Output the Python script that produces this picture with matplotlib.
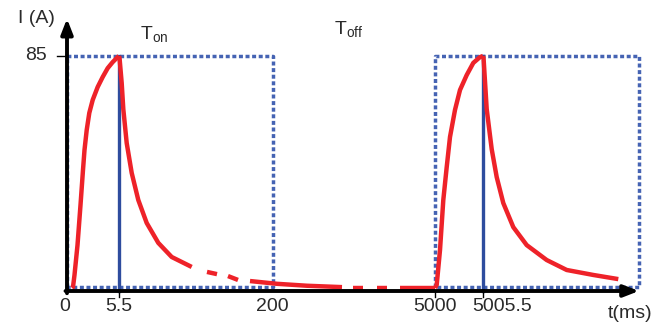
import numpy as np
import matplotlib.pyplot as plt

plt.rcParams['font.family'] = ['Liberation Sans', 'DejaVu Sans']

# schematic time axis (x = drawing units, not to scale), current in A
tick_pos = [0, 52, 206, 368, 416]
tick_labels = ['0', '5.5', '200', '5000', '5005.5']
label_pos = [-2, 52, 205, 368, 435]
i_peak = 85

# first pulse: rise and decay
rise1_x = [5, 6, 7.5, 10.5, 13.5, 16, 17.5, 19.7, 22.3, 25.7, 30.7, 35.7, 40.7, 45.7, 50.7, 52]
rise1_y = [1.1, 1.45, 5.8, 16.6, 31.1, 43.8, 51.0, 58.2, 64.4, 69.1, 73.8, 77.4, 80.6, 82.8, 84.6, 85]
dec1_x = [52, 52.6, 54.7, 56.3, 59.7, 64.7, 71.3, 79.7, 91.3, 104.7, 124.7]
dec1_y = [85, 84, 75.2, 65.8, 53.5, 42.7, 32.9, 24.6, 17.4, 12.3, 8.7]
# tail pieces (dashed look)
tail_x = [[140, 150], [161, 171], [183, 210, 240, 275], [286, 296], [310, 320], [333, 368]]
tail_y = [[6.9, 6.1], [5.4, 4.0], [3.6, 2.6, 1.9, 1.4], [1.1, 1.1], [1.1, 1.1], [1.1, 1.1]]

# second pulse
rise2_x = [368, 369.7, 373, 376.3, 379.7, 383, 388, 393, 399.7, 406.3, 413, 416]
rise2_y = [1.1, 2.2, 14.8, 32.9, 44.8, 55.7, 65.5, 72.7, 78.1, 82.5, 84.6, 85]
dec2_x = [416, 416.6, 419.7, 424.7, 429.7, 436.3, 446.3, 459.7, 479.7, 499.7, 526.3, 551.3]
dec2_y = [85, 84, 65.8, 51.3, 41.2, 31.8, 23.1, 16.6, 11.2, 7.6, 5.8, 4.3]

box1 = [0, 206]
box2 = [368, 572]
box_low = 1.45

fig = plt.figure(figsize=(6.54, 3.26), dpi=100)
ax = fig.add_axes([0, 0, 1, 1])
ax.set_xlim(-67, 587)
ax.set_ylim(-12.66, 105.25)
ax.axis('off')

blue = '#4563B3'
dark_blue = '#2E4C9E'
red = '#EE2229'
txt = '#2a2a2a'

# dotted boxes
for b0, b1 in (box1, box2):
    ax.plot([b0, b0, b1, b1, b0], [box_low, i_peak, i_peak, box_low, box_low],
            color=blue, lw=2.5, ls=(0, (1.15, 0.75)), solid_capstyle='butt', zorder=2)

# solid verticals at T_on end
for xv in (tick_pos[1], tick_pos[4]):
    ax.plot([xv, xv], [0, i_peak], color=dark_blue, lw=2.4, zorder=3)

# red current curve
kw = dict(color=red, lw=3.2, solid_capstyle='butt', solid_joinstyle='round', zorder=4)
ax.plot(rise1_x, rise1_y, **kw)
ax.plot(dec1_x, dec1_y, **kw)
for tx, ty in zip(tail_x, tail_y):
    ax.plot(tx, ty, **kw)
ax.plot(rise2_x, rise2_y, **kw)
ax.plot(dec2_x, dec2_y, **kw)

# axes with arrows
ax.annotate('', xy=(0, 98.5), xytext=(0, -0.8),
            arrowprops=dict(arrowstyle='-|>,head_length=0.9,head_width=0.35',
                            color='black', lw=2.8, shrinkA=0, shrinkB=0), zorder=5)
ax.annotate('', xy=(572, 0), xytext=(-1.5, 0),
            arrowprops=dict(arrowstyle='-|>,head_length=0.9,head_width=0.35',
                            color='black', lw=2.8, shrinkA=0, shrinkB=0), zorder=5)

# ticks
for xt in (tick_pos[1], tick_pos[3], tick_pos[4]):
    ax.plot([xt, xt], [0, -2.2], color='black', lw=1.0, zorder=5)
ax.plot([-10, 0], [i_peak, i_peak], color='black', lw=1.0, zorder=5)

for xl, lab in zip(label_pos, tick_labels):
    ax.text(xl, -5.6, lab, ha='center', va='center', fontsize=14, color=txt)
ax.text(-20, i_peak, str(i_peak), ha='right', va='center', fontsize=14, color=txt)

ax.text(-31, 98.7, 'I (A)', ha='center', va='center', fontsize=14, color=txt)
ax.text(563, -8.3, 't(ms)', ha='center', va='center', fontsize=14, color=txt)
ax.text(73, 92.5, r'T$_{\mathregular{on}}$', ha='left', va='center', fontsize=14, color=txt)
ax.text(267, 94.5, r'T$_{\mathregular{off}}$', ha='left', va='center', fontsize=14, color=txt)

fig.savefig('out.png', dpi=100)
